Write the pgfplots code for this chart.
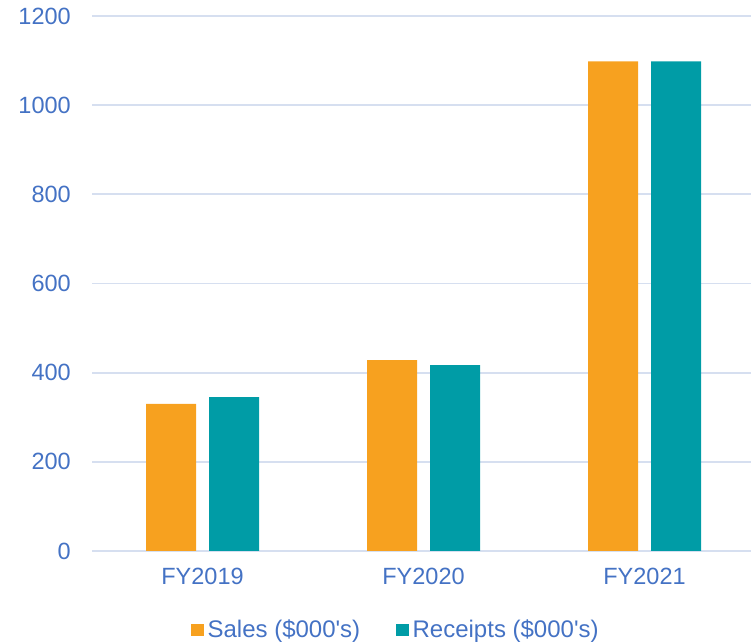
\documentclass[border=0pt]{standalone}
\usepackage{pgfplots}
\pgfplotsset{compat=1.18}
\usepackage{fontspec}
\setmainfont{Liberation Sans}
\definecolor{salesc}{HTML}{F7A11F}
\definecolor{recc}{HTML}{009CA6}
\definecolor{txtc}{HTML}{4472C4}
\definecolor{gridc}{HTML}{D6DFF0}
\begin{document}
\fontsize{11.75}{14}\selectfont
\begin{tikzpicture}
\useasboundingbox (0,0) rectangle (375.5pt,321.5pt);
\begin{axis}[
  at={(46pt,46pt)}, anchor=south west,
  scale only axis,
  width=329.3pt, height=267.5pt,
  xmin=-0.5, xmax=2.48,
  ymin=0, ymax=1200,
  ytick={0,200,...,1200},
  xtick={0,1,2},
  xticklabels={FY2019,FY2020,FY2021},
  ybar=6.5pt,
  bar width=25pt,
  axis line style={draw=none},
  major tick length=0pt,
  ymajorgrids,
  grid style={gridc, line width=0.9pt},
  /pgf/number format/assume math mode=true,
  /pgf/number format/1000 sep={},
  tick label style={text=txtc, font=\fontsize{11.75}{14}\selectfont},
  yticklabel style={xshift=-6.5pt},
  xticklabel style={yshift=-4.5pt},
  legend columns=2,
  legend style={at={(0.463,-0.1477)}, anchor=center, draw=none, fill=none,
    font=\fontsize{12}{14}\selectfont, text=txtc,
    /tikz/every even column/.append style={column sep=16pt},
    inner sep=0pt},
  legend image code/.code={\fill[#1,draw=none] (0pt,-3.1pt) rectangle (6.2pt,3.1pt);},
  clip=false,
]
\addplot[fill=salesc, draw=none] coordinates {(0,330) (1,428) (2,1098)};
\addplot[fill=recc, draw=none] coordinates {(0,345) (1,417) (2,1098)};
\legend{Sales (\$000\textquotesingle s),Receipts (\$000\textquotesingle s)}
\end{axis}
\end{tikzpicture}
\end{document}
